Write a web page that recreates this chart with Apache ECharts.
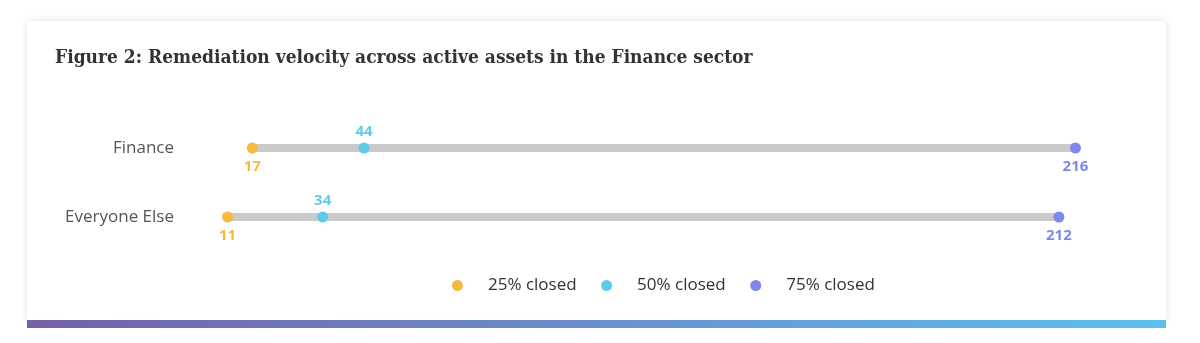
<!DOCTYPE html>
<html><head><meta charset="utf-8">
<script src="https://cdn.jsdelivr.net/npm/echarts@6/dist/echarts.min.js"></script>
<style>html,body{margin:0;padding:0;background:#fff;}#c{width:1200px;height:343px;}</style>
</head><body><div id="c"></div>
<script>
const categories = ['Finance', 'Everyone Else'];
const closed25 = [17, 11];
const closed50 = [44, 34];
const closed75 = [216, 212];
const seriesNames = ['25% closed', '50% closed', '75% closed'];
const colors = ['#f6b93b', '#5ecbea', '#7f88ea'];

const chart = echarts.init(document.getElementById('c'));
const labelFont = 'Open Sans';
function dot(name, data, color, pos, dist) {
  return {
    name: name, type: 'scatter', data: data, symbol: 'circle', symbolSize: 11,
    itemStyle: { color: color, opacity: 1 }, z: 5,
    label: { show: true, position: pos, distance: dist, color: color, fontFamily: labelFont,
      fontWeight: 'bold', fontSize: 15 }
  };
}
chart.setOption({
  animation: false,
  graphic: [
    { type: 'rect', z: -10, shape: { x: 27, y: 21, width: 1139, height: 300 },
      style: { fill: '#fff', shadowBlur: 8, shadowColor: 'rgba(0,0,0,0.12)', shadowOffsetX: 0, shadowOffsetY: 0 } },
    { type: 'rect', z: -9, shape: { x: 27, y: 320, width: 1139, height: 8 },
      style: { fill: new echarts.graphic.LinearGradient(0, 0, 1, 0, [
        { offset: 0, color: '#7460a6' }, { offset: 0.5, color: '#6a8fcc' }, { offset: 1, color: '#5cc0ee' }]) } },
    { type: 'text', left: 55, top: 49, z: 10,
      style: { text: 'Figure 2: Remediation velocity across active assets in the Finance sector',
        font: 'bold 19px "DejaVu Serif Condensed"', fill: '#333' } }
  ],
  grid: { left: 182, right: 108, top: 113.5, bottom: 91.5 },
  xAxis: { type: 'value', min: 0, max: 220, show: false },
  yAxis: { type: 'category', data: categories, inverse: true,
    axisLine: { show: false }, axisTick: { show: false }, splitLine: { show: false },
    axisLabel: { margin: 8, color: '#555', fontFamily: labelFont, fontSize: 17 } },
  legend: {
    data: seriesNames, bottom: 44, left: 447, icon: 'circle', itemWidth: 11, itemHeight: 11, itemGap: 24.5,
    textStyle: { color: '#333', fontFamily: labelFont, fontSize: 17, padding: [0, 0, 0, 20] }
  },
  series: [
    { type: 'bar', stack: 'r', data: closed25, barWidth: 8, itemStyle: { color: 'transparent' }, silent: true, z: 1 },
    { type: 'bar', stack: 'r', data: closed75.map((v, i) => v - closed25[i]), barWidth: 8, itemStyle: { color: '#cacaca' }, silent: true, z: 1 },
    dot(seriesNames[0], closed25, colors[0], 'bottom', 6),
    dot(seriesNames[1], closed50, colors[1], 'top', 3),
    dot(seriesNames[2], closed75, colors[2], 'bottom', 6)
  ]
});
</script></body></html>
